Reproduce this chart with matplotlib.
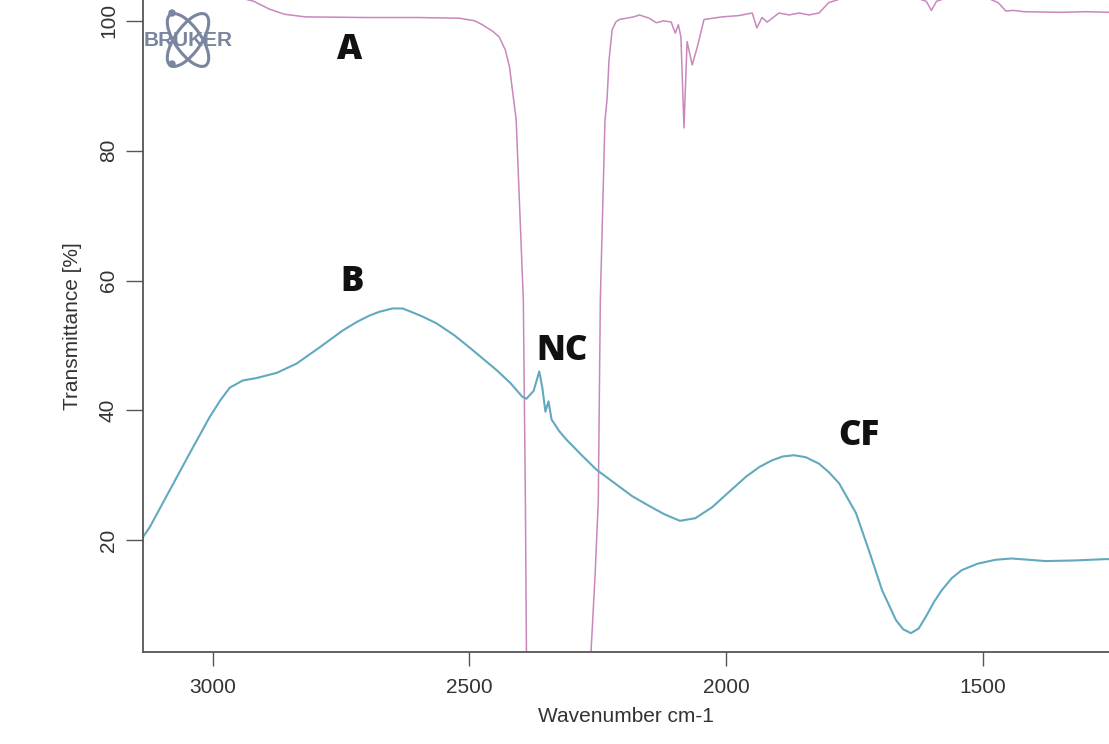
import numpy as np
import matplotlib
matplotlib.use("Agg")
import matplotlib.pyplot as plt
from matplotlib.patches import Ellipse, Circle

# spectrum A (pink): wavenumber, transmittance
wn_a = [3136, 3000, 2950, 2920, 2890, 2860, 2820, 2700, 2600, 2520, 2490,
        2475, 2455, 2442, 2430, 2422, 2409, 2395, 2391, 2389, 2388,
        2265, 2263, 2255, 2249, 2245, 2236, 2232, 2228, 2222, 2215, 2208,
        2180, 2169, 2150, 2136, 2121, 2107, 2099, 2093, 2088, 2082, 2076,
        2066, 2056, 2043, 2008, 1975, 1949, 1940, 1930, 1920, 1897, 1877,
        1858, 1838, 1819, 1800, 1760, 1700, 1640, 1610, 1600, 1590, 1560,
        1500, 1470, 1455, 1440, 1420, 1350, 1300, 1250]
tr_a = [105.0, 104.0, 103.6, 103.0, 101.8, 101.0, 100.6, 100.5, 100.5, 100.4, 100.0,
        99.4, 98.4, 97.5, 95.5, 92.9, 84.8, 57.0, 26.0, 3.0, 0.0,
        0.0, 3.0, 15.0, 26.0, 57.0, 84.6, 87.8, 94.0, 98.6, 99.8, 100.2,
        100.6, 100.9, 100.4, 99.7, 100.0, 99.8, 98.1, 99.4, 97.5, 83.5, 96.8,
        93.2, 96.0, 100.2, 100.6, 100.8, 101.2, 98.9, 100.5, 99.8, 101.2, 100.9,
        101.2, 100.9, 101.2, 102.8, 103.8, 104.2, 103.8, 103.0, 101.6, 103.0, 103.8,
        103.8, 102.8, 101.5, 101.6, 101.4, 101.3, 101.4, 101.3]

# spectrum B (teal)
wn_b = [3136, 3123, 3084, 3045, 3006, 2985, 2967, 2942, 2914, 2875, 2837,
        2792, 2747, 2720, 2695, 2675, 2650, 2630, 2611, 2590, 2564, 2530,
        2500, 2447, 2420, 2397, 2389, 2375, 2364, 2358, 2352, 2346, 2340,
        2325, 2311, 2280, 2253, 2183, 2150, 2120, 2090, 2060, 2027, 1995,
        1961, 1935, 1911, 1890, 1868, 1845, 1819, 1800, 1780, 1747, 1722,
        1696, 1669, 1655, 1640, 1625, 1611, 1595, 1580, 1560, 1541, 1510,
        1475, 1444, 1410, 1377, 1320, 1261, 1250]
tr_b = [20.5, 22.0, 27.7, 33.4, 39.0, 41.6, 43.5, 44.6, 45.0, 45.8, 47.2,
        49.7, 52.3, 53.6, 54.6, 55.2, 55.7, 55.7, 55.1, 54.4, 53.4, 51.6,
        49.7, 46.2, 44.2, 42.1, 41.8, 43.0, 46.0, 43.5, 39.8, 41.4, 38.6,
        36.8, 35.5, 33.0, 30.9, 26.8, 25.3, 24.0, 23.0, 23.4, 25.1, 27.4,
        29.8, 31.3, 32.3, 32.9, 33.1, 32.8, 31.8, 30.5, 28.8, 24.2, 18.5,
        12.3, 7.7, 6.3, 5.7, 6.4, 8.2, 10.5, 12.3, 14.2, 15.4, 16.4,
        17.0, 17.2, 17.0, 16.8, 16.9, 17.1, 17.1]

# peak labels
label_text = ["A", "B", "NC", "CF"]
label_wn = [2733, 2728, 2319, 1741]
label_tr = [95.5, 59.8, 49.1, 36.0]

yticks = [20, 40, 60, 80, 100]
xticks = [3000, 2500, 2000, 1500]

fig = plt.figure(figsize=(11.09, 7.44), dpi=100)
ax = fig.add_axes([143 / 1109, 92 / 744, 1 - 143 / 1109, 1 - 92 / 744])

ax.plot(wn_a, tr_a, color="#c987bd", lw=1.1)
ax.plot(wn_b, tr_b, color="#62a9c0", lw=1.5)

ax.set_xlim(3136, 1254)
ax.set_ylim(2.8, 103.2)

for s in ["top", "right"]:
    ax.spines[s].set_visible(False)
for s in ["left", "bottom"]:
    ax.spines[s].set_color("#555555")
    ax.spines[s].set_linewidth(1.3)

font = "Liberation Sans"
ax.set_xticks(xticks)
ax.set_yticks(yticks)
ax.set_xticklabels([str(t) for t in xticks], fontsize=15, family=font,
                   color="#333333")
ax.set_yticklabels([str(t) for t in yticks], fontsize=15, family=font,
                   color="#333333", rotation=90, va="center")
ax.tick_params(axis="x", length=10, width=1, color="#555555", pad=9)
ax.tick_params(axis="y", length=12, width=1, color="#555555", pad=6)

ax.set_xlabel("Wavenumber cm-1", fontsize=15, family=font, color="#333333",
              labelpad=7)
ax.set_ylabel("Transmittance [%]", fontsize=15, family=font, color="#333333",
              labelpad=12)

for txt, x, y in zip(label_text, label_wn, label_tr):
    ax.text(x, y, txt, fontsize=25, fontweight="heavy", family="Open Sans",
            ha="center", va="center", color="#111111")

# Bruker logo in the corner (inches from figure origin)
tr = fig.dpi_scale_trans
logo_c = (1.88, (744 - 40) / 100)
for ang in (55, -55):
    fig.patches.append(Ellipse(logo_c, 0.62, 0.26, angle=ang, fill=False,
                               ec="#7a86a0", lw=2.2, transform=tr))
for dy in (0.27, -0.24):
    fig.patches.append(Circle((logo_c[0] - 0.16, logo_c[1] + dy), 0.03,
                              color="#7a86a0", transform=tr))
fig.text(logo_c[0], logo_c[1], "BRUKER", transform=tr, fontsize=15,
         fontweight="bold", family=font, color="#7a86a0",
         ha="center", va="center")

fig.savefig("out.png", dpi=100)
